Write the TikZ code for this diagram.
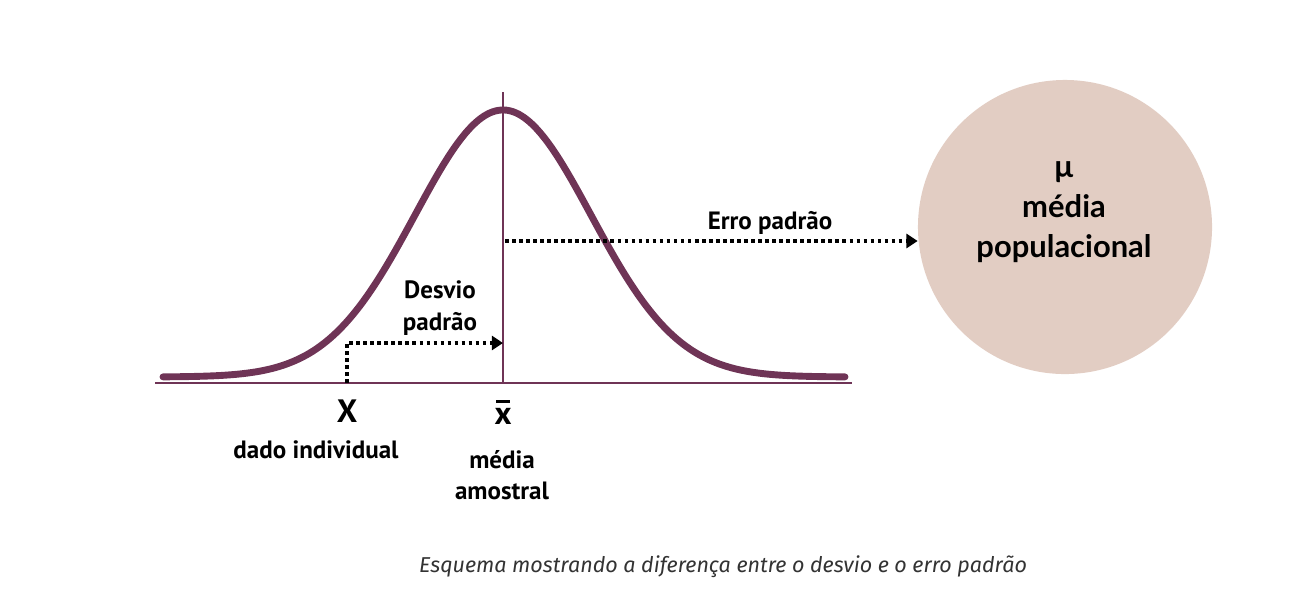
\documentclass[tikz,border=0pt]{standalone}
\usepackage{fontspec}
\setmainfont{PT Sans}
\newfontfamily\circfont{Lato}
\newfontfamily\capfont{Fira Sans}
\usetikzlibrary{arrows.meta}
\definecolor{plum}{RGB}{111,52,86}
\definecolor{rosebg}{RGB}{226,205,195}
\definecolor{captxt}{RGB}{51,51,51}
\newcommand{\xbarmark}{\ooalign{x\cr\hidewidth\raisebox{0.64em}{\rule{0.42em}{0.09em}}\hidewidth\cr}}

\begin{document}
\begin{tikzpicture}[x=0.025cm, y=-0.025cm,
        every node/.style={inner sep=0pt, text=black},
        lbl/.style={font=\fontsize{17.8}{22.5}\selectfont\bfseries, align=center},
        bigvar/.style={font=\fontsize{23}{26}\selectfont\bfseries},
        axisline/.style={draw=plum, line width=1.4pt},
        bell/.style={draw=plum, line width=4.9pt, line cap=round},
        dotarrow/.style={-{Triangle[length=8pt, width=10pt]}, line width=2.6pt,
            dash pattern=on 2.6pt off 2.4pt, draw=black},
        popcircle/.style={circle, fill=rosebg, minimum size=7.35cm},
        poptext/.style={font=\circfont\fontsize{22}{28.4}\selectfont\bfseries, align=center},
        caption/.style={font=\capfont\itshape\fontsize{15.3}{18}\selectfont, text=captxt}
      ]
      \useasboundingbox (0,0) rectangle (1290,608);
      \coordinate (axl) at (155,383);
      \coordinate (axr) at (852,383);
      \coordinate (mtop) at (503,92);
      \coordinate (mbase) at (503,383);
      \coordinate (xpt) at (347,383);
      \coordinate (dvend) at (503,343);
      \coordinate (erro0) at (505,241);
      \draw[axisline] (axl) -- (axr);
      \draw[axisline] (mtop) -- (mbase);
      \draw[bell] plot[smooth, samples=120, domain=163:845]
        (\x, {377-267*exp(-0.5*((\x-503)/88)^2)});
      \node[popcircle] (pop) at (1065,227) {};
      \node[poptext] (poptxt) at (1064,212) {µ\\média\\populacional};
      \draw[dotarrow] (xpt) |- (dvend);
      \draw[dotarrow] (erro0) -- (erro0 -| pop.west);
      \node[lbl] (erro) at (770,223) {Erro padrão};
      \node[lbl] (desvio) at (440,308) {Desvio\\padrão};
      \node[bigvar] (xind) at (347,411) {X};
      \node[bigvar] (xmed) at (503,416) {\xbarmark};
      \node[lbl] (dado) at (316,450) {dado individual};
      \node[lbl] (media) at (502,475) {média\\amostral};
      \node[caption] (cap) at (723,567) {Esquema mostrando a diferença entre o desvio e o erro padrão};
    \end{tikzpicture}
\end{document}
